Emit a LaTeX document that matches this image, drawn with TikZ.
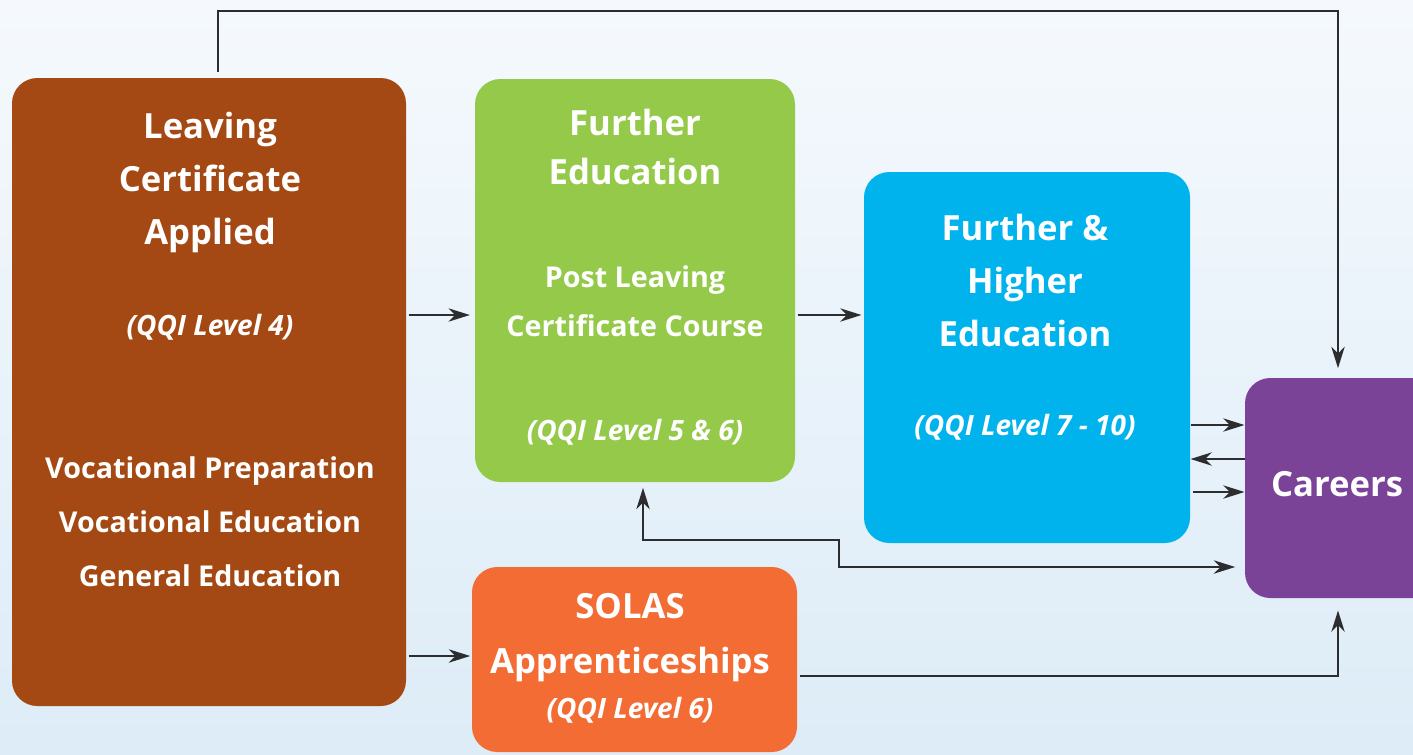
\documentclass[tikz,border=0pt]{standalone}
\usepackage{fontspec}
\setmainfont{Open Sans}
\usetikzlibrary{arrows.meta,fit}

\definecolor{bgTop}{RGB}{245,249,253}
\definecolor{bgBot}{RGB}{221,236,247}
\definecolor{lcBrown}{RGB}{164,73,19}
\definecolor{feGreen}{RGB}{149,201,74}
\definecolor{heCyan}{RGB}{0,179,237}
\definecolor{carPurple}{RGB}{123,67,151}
\definecolor{solOrange}{RGB}{242,108,51}
\definecolor{lineGray}{RGB}{45,45,48}

\tikzset{every picture/.style={line width=0.75pt}}

\begin{document}
\begin{tikzpicture}[x=0.75pt,y=0.75pt,yscale=-1,xscale=1,
  box/.style={rounded corners=19pt, inner sep=0pt, draw=none},
  txt/.style={text=white, align=center, inner sep=0pt},
  bigtxt/.style={txt, font=\fontsize{26}{39.75}\selectfont\bfseries},
  bigtxtnarrow/.style={txt, font=\fontsize{26}{36.75}\selectfont\bfseries},
  midtxt/.style={txt, font=\fontsize{21.5}{40.5}\selectfont\bfseries},
  midtxtnarrow/.style={txt, font=\fontsize{21.5}{36.75}\selectfont\bfseries},
  lvltxt/.style={txt, font=\fontsize{21}{26}\selectfont\bfseries\itshape},
  tip/.tip={Stealth[length=16pt,width=10pt,inset=5pt]},
  arr/.style={draw=lineGray, line width=1.4pt, -tip},
  arrboth/.style={draw=lineGray, line width=1.4pt, tip-tip}
]
%set diagram area 1413 x 754
\useasboundingbox (0,0) rectangle (1413,754);
\clip (0,0) rectangle (1413,754);
\shade [top color=bgTop, bottom color=bgBot] (0,0) rectangle (1413,754);

%Boxes
\node [box, fill=lcBrown, fit={(12,78) (406,706)}] (lc) {};
\node [box, fill=feGreen, fit={(475,79) (795,482)}] (fe) {};
\node [box, fill=heCyan, fit={(864,172) (1190,543)}] (fhe) {};
\node [box, fill=carPurple, fit={(1245,378) (1440,598)}] (car) {};
\node [box, fill=solOrange, fit={(472,567) (797,752)}] (sol) {};

% Text Node
\node [bigtxt] (lc-title) at (210,182) {Leaving\\Certificate\\Applied};
\node [lvltxt] (lc-level) at (210,327) {(QQI Level 4)};
\node [midtxt] (lc-list) at (210,521.5) {Vocational Preparation\\Vocational Education\\General Education};
% Text Node
\node [bigtxtnarrow] (fe-title) at (635,147) {Further\\Education};
\node [midtxtnarrow] (fe-course) at (635,301) {Post Leaving\\Certificate Course};
\node [lvltxt] (fe-level) at (635,432) {(QQI Level 5 \& 6)};
% Text Node
\node [bigtxt] (fhe-title) at (1025,280) {Further \&\\Higher\\Education};
\node [lvltxt] (fhe-level) at (1025,427) {(QQI Level 7 - 10)};
% Text Node
\node [bigtxt] (car-title) at (1337,484) {Careers};
% Text Node
\node [txt, font=\fontsize{26}{41.25}\selectfont\bfseries] (sol-title) at (630,637.5) {SOLAS\\Apprenticeships};
\node [lvltxt] (sol-level) at (630,710) {(QQI Level 6)};

%Connectors
\draw [arr, shorten <=1.5pt, shorten >=3.5pt] (lc.east |- 0,315) -- (fe.west |- 0,315);
\draw [arr, shorten <=1.5pt, shorten >=1.5pt] (fe.east |- 0,315) -- (fhe.west |- 0,315);
\draw [arr, shorten <=1.5pt, shorten >=1pt] (lc.east |- 0,656) -- (sol.west |- 0,656);
\draw [arr, shorten <=4pt, shorten >=7pt] (218,0 |- lc.north) -- (218,11) -| (1338,0 |- car.north);
\draw [arr] (fhe.east |- 0,425) -- (car.west |- 0,425);
\draw [arr] (car.west |- 0,459) -- (fhe.east |- 0,459);
\draw [arr, shorten <=2pt] (fhe.east |- 0,492) -- (car.west |- 0,492);
\draw [arrboth, shorten <=4pt, shorten >=7pt] (643,0 |- fe.south) |- (839,540) |- (car.west |- 0,567);
\draw [arr, shorten <=2pt, shorten >=9pt] (sol.east |- 0,676) -| (1338,0 |- car.south);

\end{tikzpicture}
\end{document}
